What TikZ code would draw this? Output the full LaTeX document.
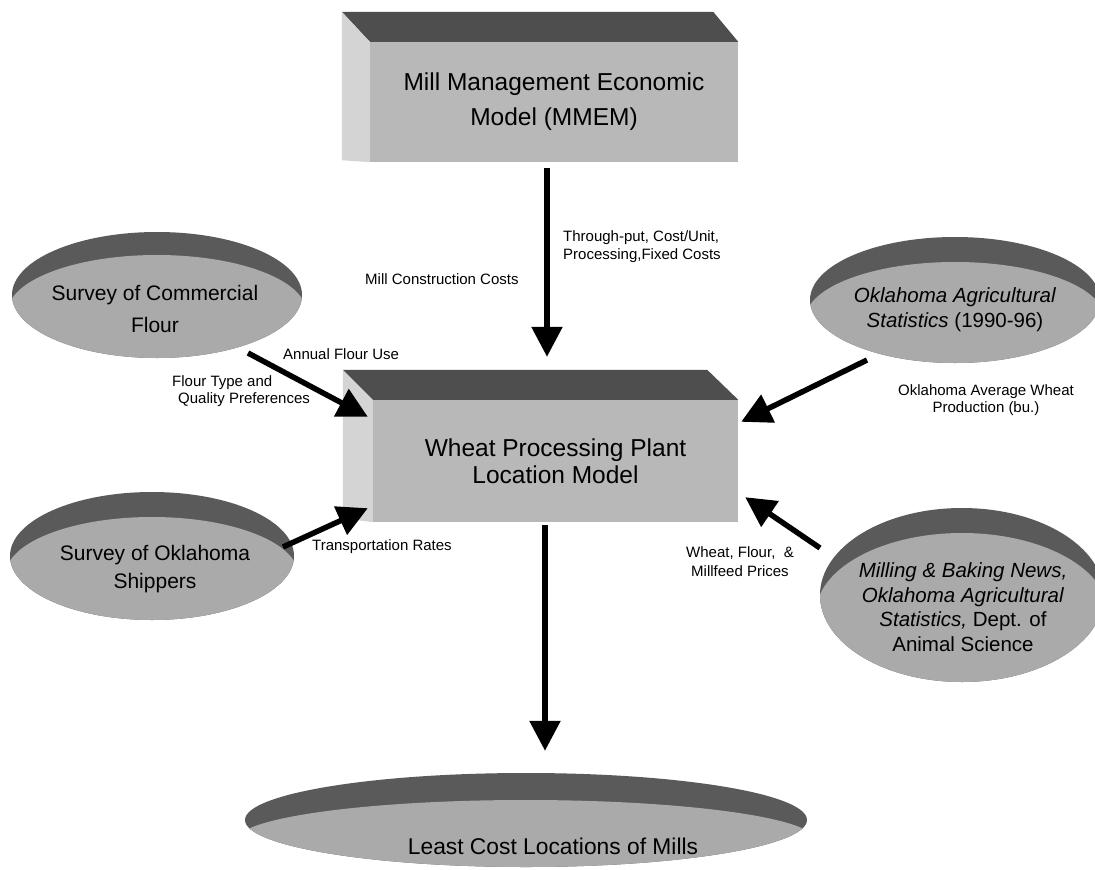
\documentclass[tikz,border=0pt]{standalone}
\usepackage{fontspec}
\setmainfont{Liberation Sans}
\usetikzlibrary{arrows.meta,calc,shapes.geometric}
\definecolor{boxfront}{HTML}{B8B8B8}
\definecolor{boxtop}{HTML}{4E4E4E}
\definecolor{boxside}{HTML}{D4D4D4}
\definecolor{discdark}{HTML}{5A5A5A}
\definecolor{disclight}{HTML}{AAAAAA}
% #1 name, #2 cx, #3 cy, #4 half width, #5 half height, #6 rim depth
\newcommand\discshape[6]{%
  \node[discnode, minimum width={2*#4}, minimum height={2*#5}] (#1) at (#2,#3) {};
  \begin{scope}
    \clip (#2,#3) ellipse [x radius=#4, y radius=#5];
    \fill[disclight] (#2,{#3+0.75*#6}) ellipse [x radius={1.03*#4}, y radius={#5-0.25*#6}];
  \end{scope}}
\begin{document}
\begin{tikzpicture}[x=1pt,y=-1pt,
  arr/.style={line width=5.5pt,-{Triangle[length=30pt,width=30pt]}},
  lbl/.style={font=\fontsize{15}{18}\selectfont,inner sep=0pt},
  boxnode/.style={rectangle,fill=boxfront,inner sep=0pt,align=center},
  disctext/.style={align=center,inner sep=0pt},
  discnode/.style={ellipse,fill=discdark,inner sep=0pt},
  topface/.style={fill=boxtop},
  sideface/.style={fill=boxside}]
\path[use as bounding box,fill=white] (0,0) rectangle (1095,870);

% ---- top box: MMEM ----
\node[boxnode,minimum width=368pt,minimum height=120pt,
      font=\fontsize{24.5}{35}\selectfont] (mmem) at (554,102)
      {Mill Management Economic\\Model (MMEM)};
\fill[topface] (mmem.north west) -- ++(-28,-30) -- ($(mmem.north east)+(-25,-30)$) -- (mmem.north east) -- cycle;
\fill[sideface] (mmem.north west) -- ++(-28,-30) -- ($(mmem.south west)+(-28,-2)$) -- (mmem.south west) -- cycle;

% ---- middle box: plant location model ----
\node[boxnode,minimum width=365pt,minimum height=122pt,
      font=\fontsize{24.5}{27}\selectfont] (wheat) at (555.5,461)
      {Wheat Processing Plant\\Location Model};
\fill[topface] (wheat.north west) -- ++(-30,-30) -- ($(wheat.north east)+(-31,-30)$) -- (wheat.north east) -- cycle;
\fill[sideface] (wheat.north west) -- ++(-30,-30) -- ($(wheat.south west)+(-30,-4)$) -- (wheat.south west) -- cycle;

% ---- discs ----
\discshape{flour}{157}{295}{145}{63}{23}
\node[disctext,font=\fontsize{21}{32}\selectfont] (flourtxt) at (155,309) {Survey of Commercial\\Flour};

\discshape{ship}{152}{556}{142}{64}{25}
\node[disctext,font=\fontsize{21}{28}\selectfont] (shiptxt) at (155,569) {Survey of Oklahoma\\Shippers};

\discshape{okag}{955}{300}{145}{63}{25}
\node[disctext,font=\fontsize{20.5}{25}\selectfont] (okagtxt) at (955,310)
  {\textit{Oklahoma Agricultural}\\\textit{Statistics} (1990-96)};

\discshape{mill}{962}{595}{142}{87}{25}
\node[disctext,font=\fontsize{20.5}{24.5}\selectfont] (milltxt) at (963,607)
  {\textit{Milling \& Baking News,}\\\textit{Oklahoma Agricultural}\\\textit{Statistics,} Dept. of\\Animal Science};

\discshape{least}{526}{820}{281}{47}{27}
\node[disctext,font=\fontsize{22.8}{27}\selectfont] (leasttxt) at (553,846) {Least Cost Locations of Mills};

% ---- connectors ----
\draw[arr] ($(mmem.south)+(-7,6)$) -- ($(wheat.north)+(-8.5,-43)$);
\draw[arr] ($(wheat.south)+(-10.5,3)$) -- ($(least.north)+(19,-22)$);
\draw[arr] ($(flour.center)+(91,58)$) -- ($(wheat.north west)+(-5,17)$);
\draw[arr] ($(ship.center)+(131,-9)$) -- ($(wheat.south west)+(-5,-14)$);
\draw[arr] ($(okag.center)+(-88,60)$) -- ($(wheat.north east)+(3,22)$);
\draw[arr] ($(mill.center)+(-142,-47)$) -- ($(wheat.south east)+(7,-25)$);

% ---- labels ----
\node[lbl,anchor=west] (lconstr) at (365,279) {Mill Construction Costs};
\node[lbl,anchor=west,align=left] (lthru) at (563,247) {Through-put, Cost/Unit,\\Processing,Fixed Costs};
\node[lbl,anchor=west] (lannual) at (283,354) {Annual Flour Use};
\node[lbl,anchor=west,align=left,font=\fontsize{15}{17}\selectfont] (ltype) at (172,391) {Flour Type and\\\hspace{6pt}Quality Preferences};
\node[lbl,anchor=west] (ltrans) at (312,547) {Transportation Rates};
\node[lbl,align=center,font=\fontsize{15}{17}\selectfont] (lprod) at (986,400) {Oklahoma Average Wheat\\Production (bu.)};
\node[lbl,align=center,font=\fontsize{15}{19}\selectfont] (lprice) at (740,562) {Wheat, Flour,~~\&\\Millfeed Prices};
\end{tikzpicture}
\end{document}
